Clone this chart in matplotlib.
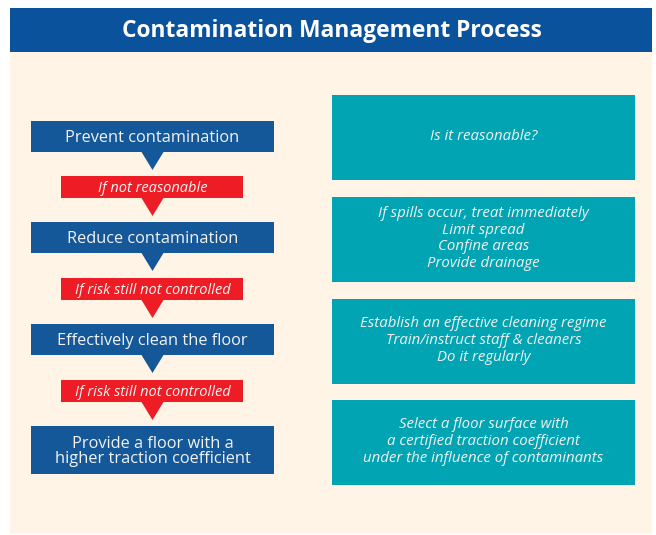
import matplotlib.pyplot as plt
from matplotlib.patches import Rectangle, Polygon

title = "Contamination Management Process"
steps = ["Prevent contamination", "Reduce contamination",
         "Effectively clean the floor", "Provide a floor with a\nhigher traction coefficient"]
conditions = ["If not reasonable", "If risk still not controlled", "If risk still not controlled"]
notes = ["Is it reasonable?",
         "If spills occur, treat immediately\nLimit spread\nConfine areas\nProvide drainage",
         "Establish an effective cleaning regime\nTrain/instruct staff & cleaners\nDo it regularly",
         "Select a floor surface with\na certified traction coefficient\nunder the influence of contaminants"]

HEADER = "#0A529B"
STEP = "#14589A"
RED = "#EE1C25"
TEAL = "#00A4B3"
CREAM = "#FFF4E6"
FONT = "Open Sans"

# layout in pixels (y grows downward)
step_y = [(121, 152), (222, 253), (324, 355), (426, 474)]
cond_y = [(176, 198), (278, 300), (380, 402)]
note_y = [(95, 180), (197, 282), (299, 384), (400, 485)]
step_x = (31, 274)
cond_x = (61, 243)
note_x = (332, 635)
cx = (step_x[0] + step_x[1]) / 2
tri_half = 11
tri_len = 18

fig = plt.figure(figsize=(6.56, 5.35), dpi=100)
ax = fig.add_axes([0, 0, 1, 1])
ax.set_xlim(0, 656)
ax.set_ylim(535, 0)
ax.axis("off")

ax.add_patch(Rectangle((10, 52), 642, 482, color=CREAM, lw=0))
ax.add_patch(Rectangle((10, 8), 642, 44, color=HEADER, lw=0))
ax.text(332, 31, title, color="white", fontsize=16.4, fontweight="bold",
        family=FONT, ha="center", va="center")

for i, (label, (y0, y1)) in enumerate(zip(steps, step_y)):
    ax.add_patch(Rectangle((step_x[0], y0), step_x[1] - step_x[0], y1 - y0, color=STEP, lw=0))
    ax.text(cx, (y0 + y1) / 2 + 1.5, label, color="#F2F2F2", fontsize=11.8, family=FONT,
            ha="center", va="center", linespacing=0.95)
    if i < len(conditions):
        ax.add_patch(Polygon([(cx - tri_half, y1), (cx + tri_half, y1), (cx, y1 + tri_len)],
                             closed=True, color=STEP, lw=0))

for label, (y0, y1) in zip(conditions, cond_y):
    ax.add_patch(Rectangle((cond_x[0], y0), cond_x[1] - cond_x[0], y1 - y0, color=RED, lw=0))
    ax.add_patch(Polygon([(cx - tri_half, y1), (cx + tri_half, y1), (cx, y1 + tri_len)],
                         closed=True, color=RED, lw=0))
    ax.text(cx, (y0 + y1) / 2 + 1, label, color="#F5F5F5", fontsize=10.5, family=FONT,
            style="italic", ha="center", va="center")

for label, (y0, y1) in zip(notes, note_y):
    ax.add_patch(Rectangle((note_x[0], y0), note_x[1] - note_x[0], y1 - y0, color=TEAL, lw=0))
    ax.text((note_x[0] + note_x[1]) / 2, (y0 + y1) / 2 - 1, label, color="#F2F2F2",
            fontsize=10.8, family=FONT, style="italic", ha="center", va="center",
            linespacing=1.18)

fig.savefig("out.png", dpi=100, facecolor="white")
